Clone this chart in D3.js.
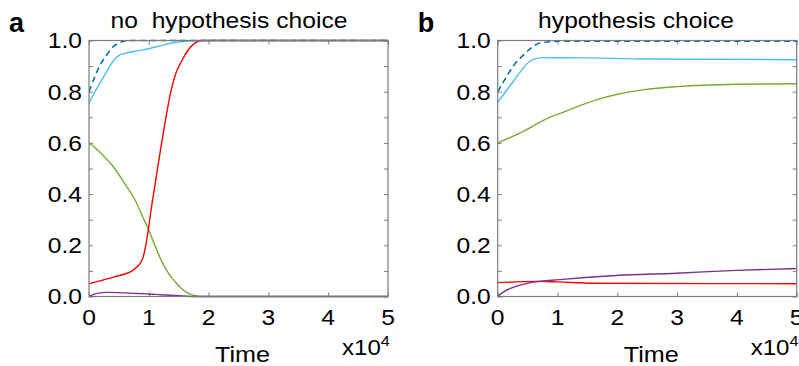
<!DOCTYPE html>
<html>
<head>
<meta charset="utf-8">
<script src="https://cdn.jsdelivr.net/npm/d3@7"></script>
<style>
  html, body { margin: 0; padding: 0; background: #fff; }
  svg text { font-family: "Liberation Sans", Arial, Helvetica, sans-serif; fill: #000; white-space: pre; }
</style>
</head>
<body>
<svg id="chart" width="799" height="366"></svg>
<script>
// Time is in units of 10^4 steps; values are fractions of the population.
const xTicks = [0, 1, 2, 3, 4, 5];
const yTicks = [0, 0.1, 0.2, 0.3, 0.4, 0.5, 0.6, 0.7, 0.8, 0.9, 1.0];
const yLabelTicks = [0, 0.2, 0.4, 0.6, 0.8, 1.0];

// Panel a: no hypothesis choice
const aTotalTime  = [0, 0.1, 0.2, 0.3, 0.4, 0.5, 0.6, 0.7, 5];
const aTotal      = [0.80, 0.86, 0.91, 0.945, 0.975, 0.99, 0.998, 1.0, 1.0];
const aCyanTime   = [0, 0.1, 0.2, 0.3, 0.4, 0.5, 0.6, 0.75, 1.0, 1.3, 1.6, 1.9, 5];
const aCyan       = [0.755, 0.80, 0.84, 0.88, 0.918, 0.942, 0.95, 0.957, 0.968, 0.986, 0.997, 1.0, 1.0];
const aRedTime    = [0, 0.2, 0.4, 0.6, 0.7, 0.8, 0.9, 0.95, 1.0, 1.05, 1.1, 1.2, 1.27, 1.35, 1.45, 1.55, 1.65, 1.77, 1.9, 5];
const aRed        = [0.05, 0.062, 0.075, 0.088, 0.097, 0.115, 0.15, 0.2, 0.275, 0.357, 0.43, 0.58, 0.676, 0.78, 0.87, 0.92, 0.96, 0.99, 1.0, 1.0];
const aGreenTime  = [0, 0.2, 0.43, 0.6, 0.77, 0.9, 1.0, 1.1, 1.22, 1.33, 1.44, 1.55, 1.66, 1.8, 1.9, 5];
const aGreen      = [0.6, 0.56, 0.5, 0.44, 0.377, 0.31, 0.26, 0.2, 0.136, 0.09, 0.058, 0.03, 0.012, 0.002, 0, 0];
const aPurpleTime = [0, 0.08, 0.16, 0.3, 0.5, 0.8, 1.0, 1.2, 1.5, 1.7, 5];
const aPurple     = [0, 0.008, 0.013, 0.016, 0.015, 0.012, 0.01, 0.007, 0.003, 0, 0];

// Panel b: hypothesis choice
const bTotalTime  = [0, 0.1, 0.26, 0.45, 0.6, 0.7, 0.85, 1.0, 5];
const bTotal      = [0.80, 0.84, 0.90, 0.948, 0.978, 0.99, 0.995, 0.997, 0.997];
const bCyanTime   = [0, 0.26, 0.53, 0.65, 0.76, 1.5, 2.38, 5];
const bCyan       = [0.758, 0.84, 0.917, 0.93, 0.933, 0.932, 0.928, 0.925];
const bGreenTime  = [0, 0.42, 0.84, 1.04, 1.65, 2.0, 2.45, 3.0, 4.0, 5];
const bGreen      = [0.6, 0.644, 0.697, 0.715, 0.768, 0.79, 0.808, 0.82, 0.829, 0.831];
const bPurpleTime = [0, 0.1, 0.26, 0.59, 1.04, 1.98, 2.99, 3.99, 5];
const bPurple     = [0, 0.018, 0.036, 0.056, 0.066, 0.082, 0.091, 0.102, 0.109];
const bRedTime    = [0, 0.65, 1.0, 1.59, 5];
const bRed        = [0.054, 0.059, 0.057, 0.052, 0.05];

const colors = {
  total: "#0072bd",
  cyan: "#4dbeee",
  red: "#ff0000",
  green: "#77ac30",
  purple: "#7e2f8e"
};

const zip = (ts, vs) => ts.map((t, i) => ({ t, v: vs[i] }));

const panels = [
  {
    letter: "a", title: "no  hypothesis choice", left: 89, right: 388, titleX: 229,
    series: [
      { data: zip(aCyanTime, aCyan), color: colors.cyan },
      { data: zip(aGreenTime, aGreen), color: colors.green },
      { data: zip(aPurpleTime, aPurple), color: colors.purple },
      { data: zip(aRedTime, aRed), color: colors.red },
      { data: zip(aTotalTime, aTotal), color: colors.total, dashed: true }
    ]
  },
  {
    letter: "b", title: "hypothesis choice", left: 497.7, right: 796.7, titleX: 636,
    series: [
      { data: zip(bCyanTime, bCyan), color: colors.cyan },
      { data: zip(bGreenTime, bGreen), color: colors.green },
      { data: zip(bRedTime, bRed), color: colors.red },
      { data: zip(bPurpleTime, bPurple), color: colors.purple },
      { data: zip(bTotalTime, bTotal), color: colors.total, dashed: true }
    ]
  }
];

const svg = d3.select("#chart");
const plotTop = 40.5, plotBottom = 296.5;
const frameColor = "#7a7a7a";
const tickLen = 4;
const stretch = 1.12;

function stretchedText(g, x, y, str, size, anchor, weight) {
  return g.append("text")
    .attr("transform", `translate(${x},${y}) scale(${stretch},1)`)
    .attr("text-anchor", anchor)
    .attr("font-size", size)
    .attr("font-weight", weight || "normal")
    .text(str);
}

panels.forEach(p => {
  const x = d3.scaleLinear().domain([0, 5]).range([p.left, p.right]);
  const y = d3.scaleLinear().domain([0, 1]).range([plotBottom, plotTop]);
  const g = svg.append("g");

  const clipId = "clip-" + p.letter;
  svg.append("clipPath").attr("id", clipId)
    .append("rect").attr("x", p.left).attr("y", plotTop - 2)
    .attr("width", p.right - p.left).attr("height", plotBottom - plotTop + 4);

  // ticks on all four sides, pointing inwards
  const axisStyle = sel => {
    sel.select(".domain").remove();
    sel.selectAll(".tick line").attr("stroke", frameColor).attr("stroke-width", 1);
    sel.selectAll(".tick text").remove();
  };
  g.append("g").attr("transform", `translate(0,${plotBottom})`)
    .call(d3.axisTop(x).tickValues(xTicks).tickSize(tickLen)).call(axisStyle);
  g.append("g").attr("transform", `translate(0,${plotTop})`)
    .call(d3.axisBottom(x).tickValues(xTicks).tickSize(tickLen)).call(axisStyle);
  g.append("g").attr("transform", `translate(${p.left},0)`)
    .call(d3.axisRight(y).tickValues(yTicks).tickSize(tickLen)).call(axisStyle);
  g.append("g").attr("transform", `translate(${p.right},0)`)
    .call(d3.axisLeft(y).tickValues(yTicks).tickSize(tickLen)).call(axisStyle);

  // curves
  const line = d3.line().x(d => x(d.t)).y(d => y(d.v)).curve(d3.curveMonotoneX);
  const lines = g.append("g").attr("clip-path", `url(#${clipId})`);
  p.series.forEach(s => {
    lines.append("path")
      .datum(s.data)
      .attr("d", line)
      .attr("fill", "none")
      .attr("stroke", s.color)
      .attr("stroke-width", s.dashed ? 1.6 : 1.4)
      .attr("stroke-dasharray", s.dashed ? "6,4" : null);
  });

  // frame
  g.append("rect")
    .attr("x", p.left).attr("y", plotTop)
    .attr("width", p.right - p.left).attr("height", plotBottom - plotTop)
    .attr("fill", "none").attr("stroke", frameColor).attr("stroke-width", 1.2);

  // tick labels
  yLabelTicks.forEach(v => {
    stretchedText(g, p.left - 7, y(v) + 7.8, d3.format(".1f")(v), 22, "end");
  });
  xTicks.forEach(t => {
    stretchedText(g, x(t), plotBottom + 28.5, String(t), 22, "middle");
  });

  // axis title and exponent
  stretchedText(g, (p.left + p.right) / 2 + 4, 362, "Time", 22.5, "middle");
  const ex = g.append("text")
    .attr("transform", `translate(${p.right - 46},355) scale(${stretch},1)`)
    .attr("font-size", 21.5);
  ex.append("tspan").text("x10");
  ex.append("tspan").attr("font-size", 14.5).attr("dy", -9).text("4");

  // panel title and letter
  stretchedText(g, p.titleX, 28, p.title, 22, "middle");
  g.append("text")
    .attr("x", p.left - 80).attr("y", 32)
    .attr("font-size", 27).attr("font-weight", "bold")
    .text(p.letter);
});
</script>
</body>
</html>
